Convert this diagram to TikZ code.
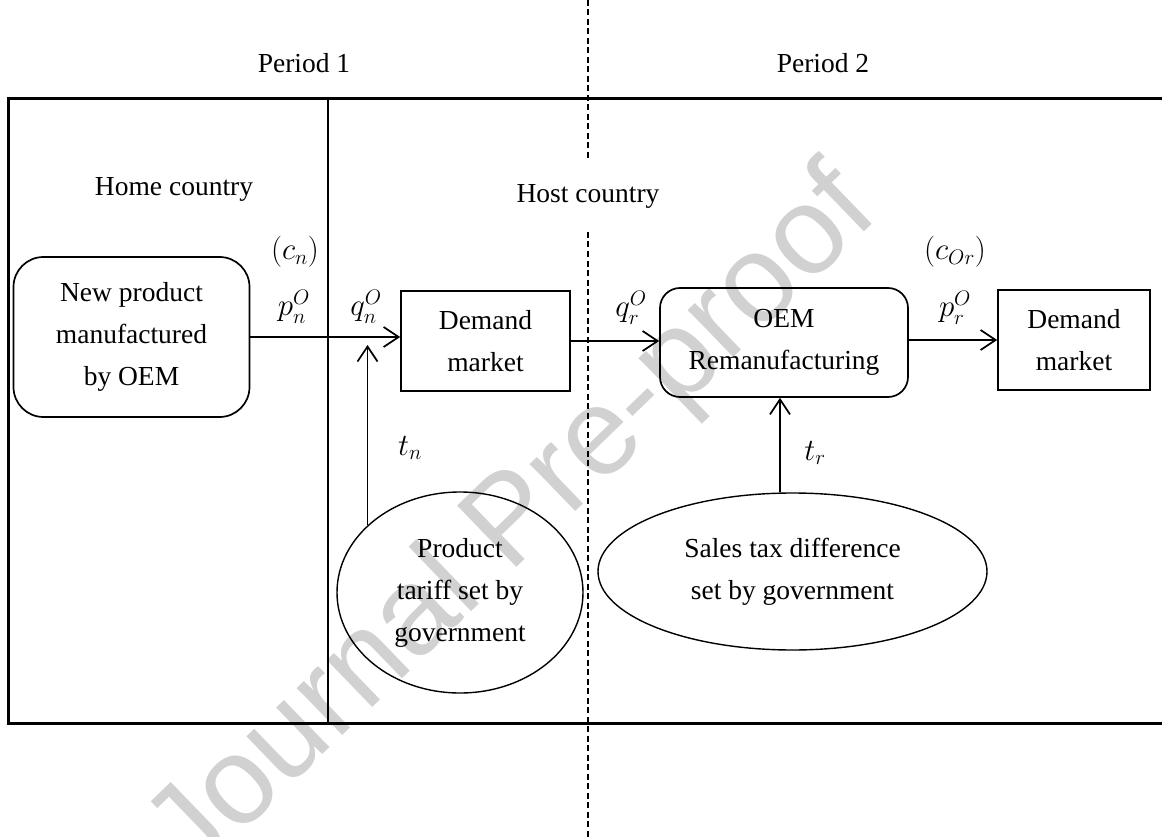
\RequirePackage{fix-cm}
\documentclass[tikz,border=0pt]{standalone}
\usepackage{fontspec}
\setmainfont{Liberation Serif}
\newfontfamily\wmfont{Liberation Sans}
\usetikzlibrary{arrows.meta,shapes.geometric,calc}
\DeclareMathSizes{31}{31}{21}{16}
\tikzset{
  txt/.style={font=\fontsize{27.5}{42}\selectfont, align=center, inner sep=0pt},
  box/.style={draw, line width=1.7pt, font=\fontsize{27.5}{42}\selectfont, align=center, inner sep=0pt},
  rbox/.style={box, rounded corners=#1},
  ell/.style={draw, ellipse, line width=1.4pt, font=\fontsize{27.5}{42}\selectfont, align=center, inner sep=0pt},
  flow/.style={line width=1.7pt, -{Straight Barb[length=15pt,width=20pt,line width=1.7pt]}},
  frame/.style={line width=3pt},
  divider/.style={line width=1.8pt},
  dashdiv/.style={line width=1.6pt, dash pattern=on 6pt off 3.5pt},
  mathlbl/.style={font=\fontsize{31}{36}\selectfont, inner sep=0pt},
  watermark/.style={font=\wmfont\fontsize{124}{130}\selectfont, text=black!18, rotate=44, inner sep=0pt}
}
\begin{document}
\begin{tikzpicture}[x=1pt,y=-1pt]
\useasboundingbox (0,0) rectangle (1162,837);
% watermark
\node[watermark] (wm) at (515,525) {Journal Pre-proof};

% frame
\draw[frame] (1162,99) -- (8,99) -- (8,723) -- (1162,723);
\coordinate (d1t) at (328,99);
\coordinate (d1b) at (328,723);
\draw[divider] (d1t) -- (d1b);
\coordinate (d2a) at (588,0);
\coordinate (d2b) at (588,160);
\coordinate (d2c) at (588,232);
\coordinate (d2d) at (588,837);
\draw[dashdiv] (d2a) -- (d2b);
\draw[dashdiv] (d2c) -- (d2d);

% titles
\node[txt] (p1) at (304,63) {Period 1};
\node[txt] (p2) at (823,63) {Period 2};
\node[txt] (home) at (174,189) {Home country};
\node[txt] (host) at (588,196) {Host country};

% boxes
\node[rbox=30pt, minimum width=236pt, minimum height=160pt] (newp) at (131.5,337) {New product\\manufactured\\by OEM};
\node[box, minimum width=169pt, minimum height=100pt] (dm1) at (485.5,341) {Demand\\market};
\node[rbox=20pt, minimum width=248pt, minimum height=109pt] (oem) at (784,342.5) {OEM\\Remanufacturing};
\node[box, minimum width=152pt, minimum height=100pt] (dm2) at (1074,340) {Demand\\market};
\node[ell, minimum width=246pt, minimum height=201pt] (tariff) at (460,592.5) {Product\\tariff set by\\government};
\node[ell, minimum width=389pt, minimum height=157pt] (tax) at (792.5,571.5) {Sales tax difference\\set by government};

% connectors
\draw[flow] (newp.east) -- (newp.east -| dm1.west);
\draw[flow] (dm1.east) -- (dm1.east -| oem.west);
\draw[flow] (oem.east |- dm2.west) -- (dm2.west);
\coordinate (tnend) at ($(tariff.144 |- newp.east)+(0,8)$);
\draw[flow] (tariff.144) -- (tnend);
\draw[flow] (tax.99) -- (tax.99 |- oem.south);

% labels
\node[mathlbl] (lcn) at (295,252) {$(c_n)$};
\node[mathlbl] (lpn) at (294,307) {$p_n^O$};
\node[mathlbl] (lqn) at (366,307) {$q_n^O$};
\node[mathlbl] (lqr) at (631,308) {$q_r^O$};
\node[mathlbl] (lcor) at (955,252) {$(c_{Or})$};
\node[mathlbl] (lpr) at (955,308) {$p_r^O$};
\node[mathlbl] (ltn) at (410,448) {$t_n$};
\node[mathlbl] (ltr) at (815,453) {$t_r$};
\end{tikzpicture}
\end{document}
